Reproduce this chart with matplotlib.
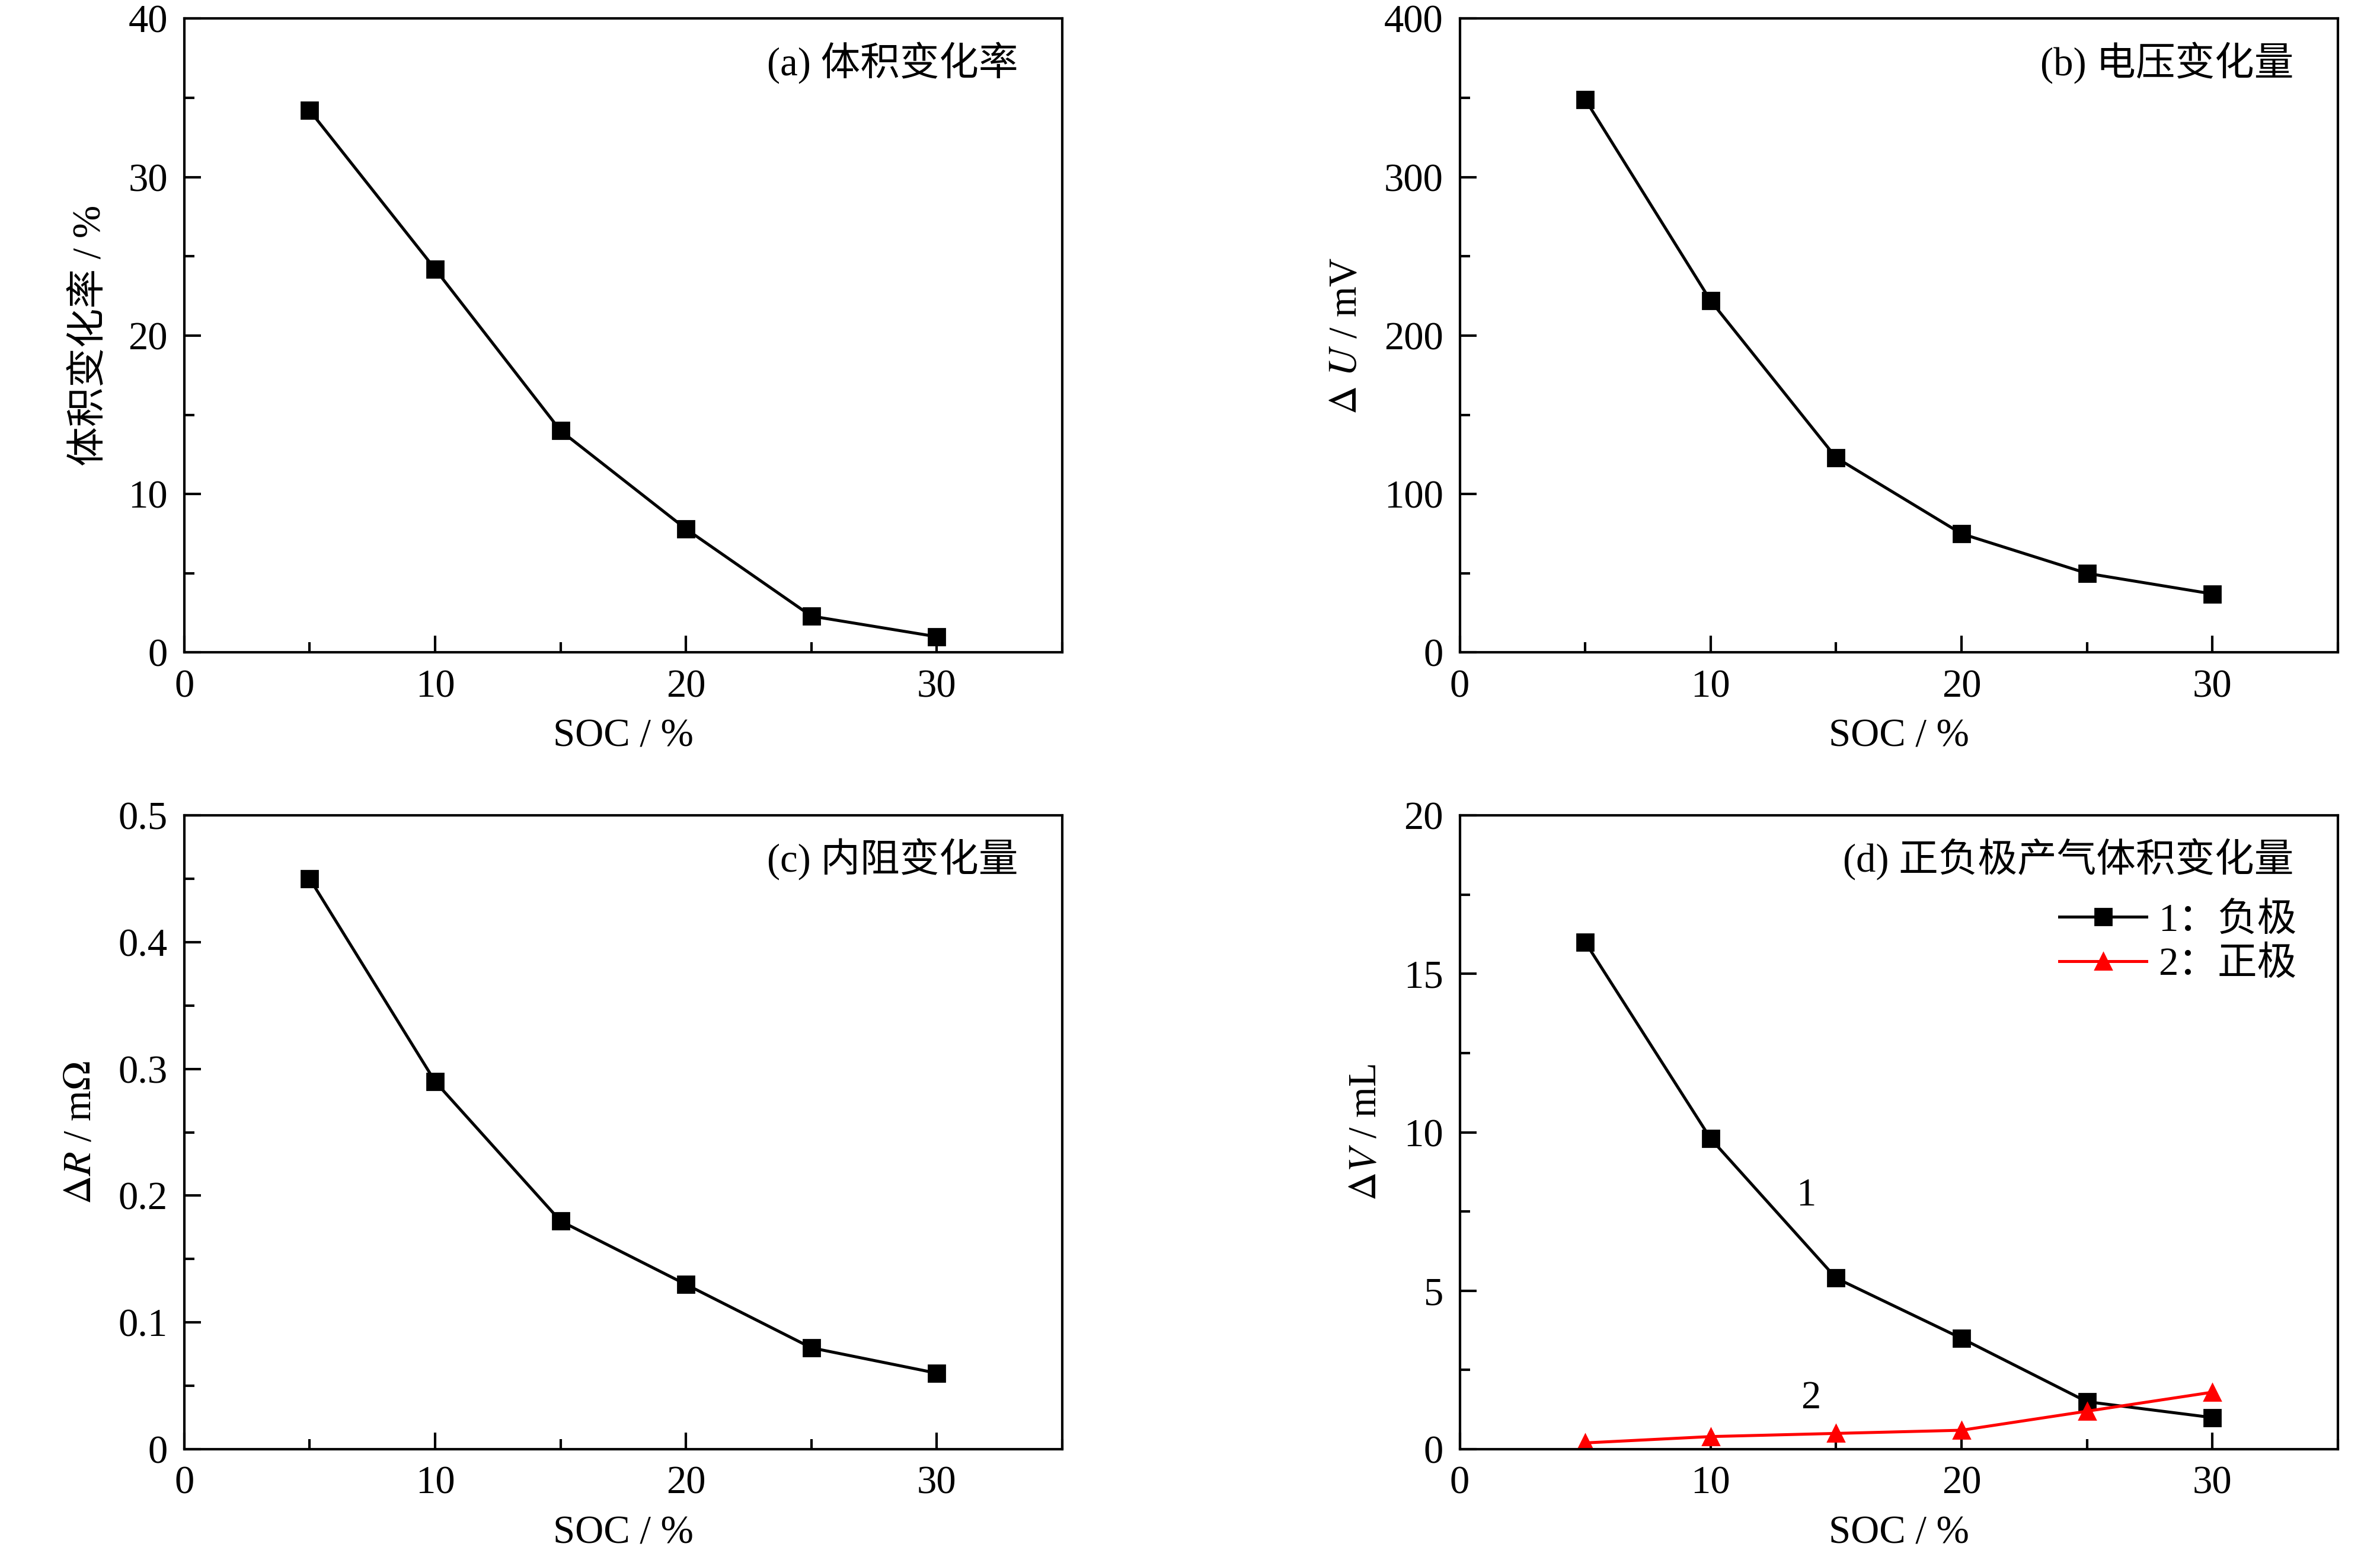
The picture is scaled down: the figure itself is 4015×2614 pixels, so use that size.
import matplotlib
matplotlib.use('Agg')
import matplotlib.pyplot as plt
from matplotlib.ticker import MultipleLocator

plt.rcParams['font.family'] = ['Liberation Serif', 'Noto Sans CJK SC']
plt.rcParams['mathtext.fontset'] = 'stix'
plt.rcParams['font.size'] = 24

soc = [5, 10, 15, 20, 25, 30]
volume_rate = [34.2, 24.2, 14.0, 7.8, 2.3, 1.0]
delta_u = [349, 222, 123, 75, 50, 37]
delta_r = [0.45, 0.29, 0.18, 0.13, 0.08, 0.06]
gas_neg = [16.0, 9.8, 5.4, 3.5, 1.5, 1.0]
gas_pos = [0.2, 0.4, 0.5, 0.6, 1.2, 1.8]

fig = plt.figure(figsize=(20.08, 13.07), dpi=200)
w, h = 0.3688, 0.409
pos = [(0.0774, 0.579), (0.6132, 0.579), (0.0774, 0.065), (0.6132, 0.065)]
axs = [fig.add_axes([x, y, w, h]) for x, y in pos]

specs = [
    (volume_rate, '(a) 体积变化率', '体积变化率 / %', 40, 10, 5),
    (delta_u, '(b) 电压变化量', r'$\Delta\ \mathit{U}$ / mV', 400, 100, 50),
    (delta_r, '(c) 内阻变化量', r'$\Delta\mathit{R}$ / m$\Omega$', 0.5, 0.1, 0.05),
    (gas_neg, '(d) 正负极产气体积变化量', r'$\Delta\mathit{V}$ / mL', 20, 5, 2.5),
]
for ax, (vals, title, ylab, ymax, major, minor) in zip(axs, specs):
    ax.plot(soc, vals, 'k-s', lw=1.8, ms=10, label='1：负极')
    ax.set_xlim(0, 35)
    ax.set_ylim(0, ymax)
    ax.xaxis.set_major_locator(MultipleLocator(10))
    ax.xaxis.set_minor_locator(MultipleLocator(5))
    ax.yaxis.set_major_locator(MultipleLocator(major))
    ax.yaxis.set_minor_locator(MultipleLocator(minor))
    ax.tick_params(which='both', direction='in', width=1.5)
    ax.tick_params(which='major', length=10, pad=10)
    ax.tick_params(which='minor', length=6)
    for s in ax.spines.values():
        s.set_linewidth(1.5)
    ax.set_xlabel('SOC / %', labelpad=8)
    ax.set_ylabel(ylab, labelpad=12)
    ax.text(0.95, 0.93, title, transform=ax.transAxes, ha='right', va='center')
    ax.yaxis.set_major_formatter(plt.FuncFormatter(lambda v, p: ('%g' % v)))

axd = axs[3]
axd.plot(soc, gas_pos, '-^', color='red', lw=1.8, ms=10, label='2：正极')
axd.legend(loc='upper right', bbox_to_anchor=(0.98, 0.9), frameon=False,
           handlelength=2.2, handletextpad=0.3, borderaxespad=0.2, labelspacing=0.2)
axd.text(13.8, 8.0, '1', ha='center', va='center')
axd.text(14.0, 1.6, '2', ha='center', va='center')

fig.savefig('out.png', dpi=200)
